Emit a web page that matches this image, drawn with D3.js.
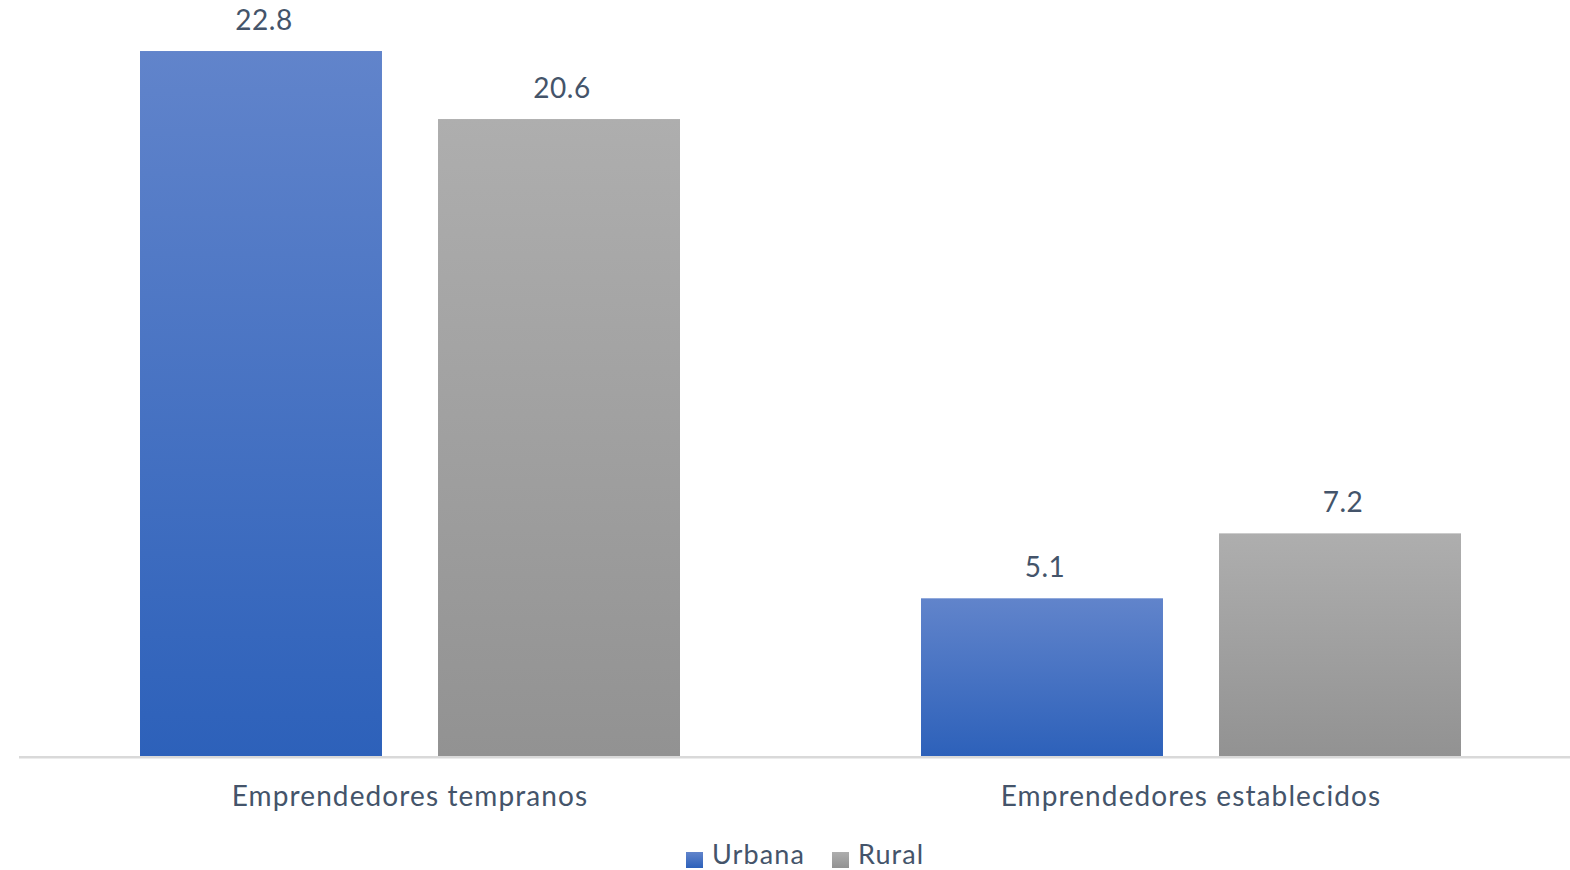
<!DOCTYPE html>
<html>
<head>
<meta charset="utf-8">
<script src="https://cdn.jsdelivr.net/npm/d3@7"></script>
<style>
  html, body { margin: 0; padding: 0; background: #fff; }
  svg { display: block; }
  text { font-family: "Lato", "Open Sans", sans-serif; fill: #44546A; }
</style>
</head>
<body>
<svg id="chart" width="1570" height="870"></svg>
<script>
const categories = ["Emprendedores tempranos", "Emprendedores establecidos"];
const seriesNames = ["Urbana", "Rural"];
const urbana = [22.8, 5.1];
const rural = [20.6, 7.2];
const seriesValues = [urbana, rural];

const W = 1570, H = 870;
const baseY = 756;
const pxPerUnit = 30.92;
const svg = d3.select("#chart");

const defs = svg.append("defs");
const grads = [
  { id: "gUrbana", top: "#6184CB", bottom: "#2D61BA" },
  { id: "gRural", top: "#AEAEAE", bottom: "#929292" }
];
grads.forEach(g => {
  const lg = defs.append("linearGradient").attr("id", g.id)
    .attr("x1", 0).attr("y1", 0).attr("x2", 0).attr("y2", 1);
  lg.append("stop").attr("offset", "0%").attr("stop-color", g.top);
  lg.append("stop").attr("offset", "100%").attr("stop-color", g.bottom);
});

const x0 = d3.scaleBand().domain(categories).range([19.5, 1581.5]).padding(0);
const x1 = d3.scaleBand().domain(seriesNames).range([120.5, 660.5]).paddingInner(0.188).paddingOuter(0);
const y = d3.scaleLinear().domain([0, 25]).range([baseY, baseY - 25 * pxPerUnit]);

const data = [];
categories.forEach((c, ci) => {
  seriesNames.forEach((s, si) => {
    data.push({ cat: c, ser: s, si, v: seriesValues[si][ci] });
  });
});

// axis line
svg.append("line")
  .attr("x1", 19).attr("x2", 1570)
  .attr("y1", baseY + 1.2).attr("y2", baseY + 1.2)
  .attr("stroke", "#D9D9D9").attr("stroke-width", 2.5);

const g = svg.append("g");
g.selectAll("rect.bar").data(data).enter().append("rect")
  .attr("class", "bar")
  .attr("x", d => x0(d.cat) + x1(d.ser))
  .attr("width", x1.bandwidth())
  .attr("y", d => y(d.v))
  .attr("height", d => y(0) - y(d.v))
  .attr("fill", d => `url(#${grads[d.si].id})`);

g.selectAll("text.val").data(data).enter().append("text")
  .attr("class", "val")
  .attr("x", d => x0(d.cat) + x1(d.ser) + x1.bandwidth() / 2 + 3)
  .attr("y", d => y(d.v) - 21)
  .attr("text-anchor", "middle")
  .attr("font-size", 28)
  .attr("letter-spacing", 0.5)
  .text(d => d.v.toFixed(1));

// category labels
svg.selectAll("text.cat").data(categories).enter().append("text")
  .attr("class", "cat")
  .attr("x", d => x0(d) + x0.bandwidth() / 2)
  .attr("y", 806)
  .attr("text-anchor", "middle")
  .attr("font-size", 28)
  .attr("letter-spacing", 1.1)
  .text(d => d);

// legend
const legendItems = [
  { name: seriesNames[0], grad: grads[0].id, x: 686 },
  { name: seriesNames[1], grad: grads[1].id, x: 832 }
];
const lg = svg.append("g");
legendItems.forEach(it => {
  lg.append("rect").attr("x", it.x).attr("y", 852).attr("width", 17).attr("height", 16)
    .attr("fill", `url(#${it.grad})`);
  lg.append("text").attr("x", it.x + 26).attr("y", 864).attr("font-size", 27)
    .attr("letter-spacing", 1.1).text(it.name);
});
</script>
</body>
</html>
